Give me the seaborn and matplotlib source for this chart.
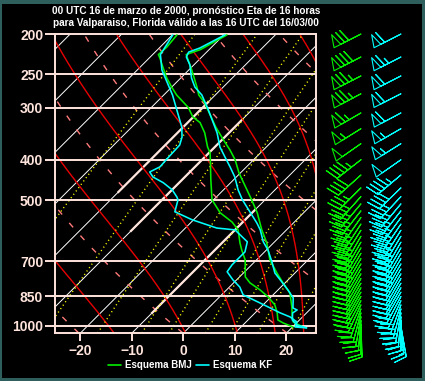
import numpy as np
import pandas as pd
import matplotlib
matplotlib.use("Agg")
import matplotlib.pyplot as plt
import seaborn as sns
from matplotlib.patches import Rectangle
from matplotlib.lines import Line2D

sns.set_theme(style="dark")
plt.rcParams["font.family"] = ["Liberation Sans", "DejaVu Sans"]

# ---------------- data ----------------
title = ("00 UTC 16 de marzo de 2000, pronóstico Eta de 16 horas\n"
         "para Valparaiso, Florida válido a las 16 UTC del 16/03/00")
pressure_ticks = [200, 250, 300, 400, 500, 700, 850, 1000]
temp_ticks = [-20, -10, 0, 10, 20]
series_names = ["Esquema BMJ", "Esquema KF"]

bmj_t_p = [201, 218, 224, 244, 268, 280, 292, 312, 334, 358, 379, 400, 430, 454, 499, 536, 589, 633, 695, 747, 789, 834, 901, 952, 979, 1006]
bmj_t = [-49.4, -51.7, -53.5, -49.4, -45.1, -43.2, -40.6, -37.2, -33.7, -29.8, -26.5, -23.6, -20.3, -17.5, -12.6, -9.0, -4.8, -1.3, 2.6, 6.5, 9.6, 12.9, 16.0, 18.0, 19.2, 22.0]
bmj_td_p = [201, 215, 224, 228, 240, 255, 268, 280, 300, 316, 326, 345, 373, 385, 400, 447, 499, 536, 564, 589, 633, 658, 695, 763, 789, 820, 852, 891, 931, 968, 984, 1006]
bmj_td = [-59.1, -58.7, -58.9, -58.0, -55.6, -52.7, -50.0, -47.5, -42.8, -40.1, -37.6, -34.7, -31.4, -29.8, -28.4, -24.4, -20.3, -16.2, -12.1, -9.4, -6.5, -4.8, -2.2, 1.1, 3.2, 6.5, 9.4, 12.3, 14.3, 15.8, 17.4, 20.1]

kf_t_p = [201, 216, 221, 227, 237, 255, 268, 280, 300, 321, 345, 373, 394, 416, 440, 472, 499, 567, 589, 629, 658, 703, 747, 785, 820, 857, 906, 916, 931, 968, 995, 1011]
kf_t = [-49.8, -52.1, -53.5, -53.0, -50.8, -47.9, -45.5, -42.6, -39.1, -35.8, -32.3, -29.0, -26.1, -23.2, -20.3, -17.2, -14.4, -7.1, -5.1, -2.2, 0.3, 3.4, 6.1, 9.2, 11.9, 14.5, 16.4, 17.6, 17.3, 18.6, 20.5, 22.9]
kf_td_p = [201, 224, 244, 280, 334, 353, 369, 396, 416, 428, 440, 454, 472, 491, 499, 533, 557, 583, 589, 629, 665, 714, 742, 776, 807, 843, 881, 901, 931, 952, 979, 1006, 1011]
kf_td = [-59.9, -58.5, -55.2, -48.3, -40.3, -38.3, -37.2, -37.0, -36.8, -37.8, -36.2, -33.1, -30.0, -27.7, -26.9, -25.2, -20.3, -13.9, -10.0, -5.3, -3.8, -3.8, -3.4, -0.7, 2.0, 4.2, 9.0, 11.4, 14.9, 17.6, 19.9, 20.5, 22.9]

wind_p = [200, 227, 252, 278, 309, 337, 366, 400, 435, 467, 490, 510, 530, 550, 570, 590, 610, 630, 650, 670, 690, 710, 730, 750, 770, 790, 810, 830, 850, 870, 890, 910, 930, 950, 970, 990, 1005]
bmj_spd = [70, 80, 75, 75, 65, 55, 50, 45, 40, 35, 35, 35, 35, 35, 35, 35, 35, 35, 35, 35, 35, 35, 30, 30, 30, 30, 30, 30, 30, 30, 25, 25, 20, 20, 15, 15, 10]
bmj_dir = [243, 243, 243, 242, 240, 238, 235, 232, 228, 225, 222, 220, 218, 215, 213, 212, 210, 210, 210, 210, 210, 210, 210, 210, 210, 210, 210, 210, 210, 208, 205, 200, 195, 190, 185, 180, 178]
kf_spd = [60, 65, 60, 60, 60, 55, 55, 50, 45, 40, 35, 35, 35, 35, 35, 35, 35, 35, 35, 35, 35, 35, 35, 30, 30, 30, 30, 30, 30, 30, 30, 25, 25, 20, 20, 15, 15]
kf_dir = [243, 243, 243, 243, 242, 240, 238, 235, 230, 226, 223, 220, 218, 216, 214, 212, 211, 210, 210, 210, 210, 210, 210, 210, 210, 210, 210, 210, 208, 205, 200, 195, 190, 185, 180, 175, 170]

isotherm_values = list(range(-110, 50, 10))
# isotherm segments drawn bold: (temperature, p_low, p_high)
bold_isotherm_t = [-40, -30, -10]
bold_isotherm_p_from = [480, 595, 935]
bold_isotherm_p_to = [290, 320, 525]
dry_adiabat_theta = [250, 270, 290, 310, 330, 350, 370, 390, 410]
moist_adiabat_thetae = [260, 280, 300, 320, 340, 360, 380]
mixing_ratios = [0.1, 0.4, 1, 2, 3, 5, 7, 10, 15, 20]

# ---------------- geometry ----------------
W, H = 425, 381
P_BOT, P_TOP = 1040.0, 200.0
SKEW = 181.2 / 5.15
XL, XR = -24.95, 25.73

def skx(T, p):
    return np.asarray(T, float) + SKEW * np.log(P_BOT / np.asarray(p, float))

def esat(tc):
    return 6.112 * np.exp(17.67 * tc / (tc + 243.5))

def thetae_sat(tk, p):
    es = esat(tk - 273.15)
    ws = 0.622 * es / (p - es)
    return tk * (1000.0 / p) ** 0.2854 * np.exp(2.5e6 * ws / (1004.0 * tk))

def moist_T(target, p):
    lo = np.full_like(p, 150.0); hi = np.full_like(p, 330.0)
    for _ in range(60):
        mid = 0.5 * (lo + hi)
        f = thetae_sat(mid, p) - target
        hi = np.where(f > 0, mid, hi)
        lo = np.where(f > 0, lo, mid)
    return 0.5 * (lo + hi) - 273.15

PINK = "#ffe4dc"
GREEN = "#00f000"
CYAN = "#00ffff"

fig = plt.figure(figsize=(W / 100, H / 100), dpi=100, facecolor="#2e5f5c")
bg = Rectangle((2 / W, 3 / H), 1 - 5 / W, 1 - 7 / H, transform=fig.transFigure,
               facecolor="black", edgecolor="none", zorder=-10)
fig.patches.append(bg)
ax = fig.add_axes([55 / W, 1 - 333 / H, 261 / W, 299 / H])
ax.set_facecolor("black")
ax.set_yscale("log")
ax.grid(False)

pp = np.geomspace(P_BOT, P_TOP, 200)
for t0 in isotherm_values:
    ax.plot(skx(np.full_like(pp, t0), pp), pp, color="white", lw=0.7, zorder=1)
for t0, pa, pb in zip(bold_isotherm_t, bold_isotherm_p_from, bold_isotherm_p_to):
    seg = np.array([pa, pb], float)
    ax.plot(skx([t0, t0], seg), seg, color=PINK, lw=1.6, zorder=1.5,
            solid_capstyle="butt")
for th in dry_adiabat_theta:
    tt = th * (pp / 1000.0) ** 0.2854 - 273.15
    ax.plot(skx(tt, pp), pp, color="#ff7a7a", lw=1.0, dashes=(4.3, 7.9), zorder=1)
for te in moist_adiabat_thetae:
    tt = moist_T(te, pp)
    ax.plot(skx(tt, pp), pp, color="#e80000", lw=1.0, zorder=2)
for w in mixing_ratios:
    e = w * pp / (622.0 + w)
    lnr = np.log(e / 6.112)
    tt = 243.5 * lnr / (17.67 - lnr)
    ax.plot(skx(tt, pp), pp, color="#ffff00", lw=1.0, dashes=(0.8, 2.2), zorder=2)
for p in pressure_ticks[1:]:
    ax.axhline(p, color=PINK, lw=1.4, zorder=3)

profiles = [
    (bmj_t_p, bmj_t, GREEN),
    (bmj_td_p, bmj_td, GREEN),
    (kf_t_p, kf_t, CYAN),
    (kf_td_p, kf_td, CYAN),
]
for pv, tv, col in profiles:
    df = pd.DataFrame({"x": skx(tv, pv), "p": pv})
    sns.lineplot(data=df, x="x", y="p", sort=False, estimator=None, color=col,
                 lw=1.15, ax=ax, zorder=4, legend=False)

ax.set_ylim(P_BOT, P_TOP)
ax.set_xlim(XL, XR)
for s in ax.spines.values():
    s.set_color(PINK); s.set_linewidth(1.4)
ax.set_yticks(pressure_ticks)
ax.set_yticklabels([str(p) for p in pressure_ticks])
ax.yaxis.set_minor_locator(matplotlib.ticker.NullLocator())
ax.set_xticks(temp_ticks)
ax.set_xticklabels(["\u221220", "\u221210", "0", "10", "20"])
ax.tick_params(axis="y", length=7.5, width=1.4, color=PINK, labelcolor=PINK, pad=1,
               labelsize=10, left=True)
ax.tick_params(axis="x", length=5.5, width=1.4, color=PINK, labelcolor=PINK, pad=2.5,
               labelsize=10, bottom=True)
for lbl in ax.get_xticklabels() + ax.get_yticklabels():
    lbl.set_fontweight("bold")
ax.set_xlabel(""); ax.set_ylabel("")

fig.text(186 / W, 1 - 17 / H, title, ha="center", va="center", color="white",
         fontsize=7.2, fontweight="bold", linespacing=1.3)

bax = fig.add_axes([320 / W, 1 - 333 / H, 100 / W, 299 / H])
bax.set_yscale("log")
for xs, spd, dr, col in [(361, bmj_spd, bmj_dir, GREEN), (401, kf_spd, kf_dir, CYAN)]:
    spd = np.array(spd, float); dr = np.deg2rad(np.array(dr, float))
    u = -spd * np.sin(dr); v = -spd * np.cos(dr)
    bax.barbs(np.full(len(wind_p), xs), wind_p, u, v, length=6.6, barbcolor=col,
              flagcolor="none", linewidth=0.8, clip_on=False,
              sizes=dict(spacing=0.15, height=0.42, width=0.25))
bax.set_ylim(P_BOT, P_TOP); bax.set_xlim(320, 420)
bax.axis("off")

handles = [Line2D([], [], color=GREEN, lw=1.2), Line2D([], [], color=CYAN, lw=1.2)]
leg = fig.legend(handles, series_names, ncol=2, loc="center",
                 bbox_to_anchor=(190 / W, 1 - 365 / H), frameon=False,
                 handlelength=1.4, handletextpad=0.4, columnspacing=0.4,
                 prop=dict(size=7, weight="bold"))
for t in leg.get_texts():
    t.set_color("white")

fig.savefig("out.png", dpi=100, facecolor=fig.get_facecolor())
